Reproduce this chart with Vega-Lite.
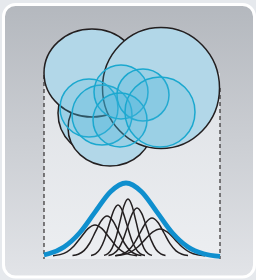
{
  "$schema": "https://vega.github.io/schema/vega-lite/v6.json",
  "width": 256,
  "height": 280,
  "autosize": {"type": "fit", "contains": "padding"},
  "padding": 0,
  "background": "#e6e9ed",
  "config": {"view": {"stroke": null}},
  "datasets": {
    "panel": [{"x": 3.5, "x2": 254.5, "y": 4.5, "y2": 277}],
    "inner": [{"x": 44, "x2": 220, "y": 73, "y2": 259}],
    "dash": [{"x": 44, "y": 75, "y2": 259}, {"x": 220, "y": 88, "y2": 259}],
    "ellipses": [
      {"id": "E3", "x": 100, "y": 113, "d": 84},
      {"id": "E4", "x": 110, "y": 128, "d": 84},
      {"id": "E1", "x": 92, "y": 73, "d": 96},
      {"id": "E2", "x": 161, "y": 88, "d": 117}
    ],
    "cyan": [
      {"id": "A", "x": 89, "y": 108, "d": 58},
      {"id": "F", "x": 102, "y": 115, "d": 60},
      {"id": "B", "x": 121, "y": 92, "d": 54},
      {"id": "C", "x": 143, "y": 95, "d": 52},
      {"id": "E", "x": 120, "y": 120, "d": 54},
      {"id": "D", "x": 160, "y": 112, "d": 70}
    ],
    "curves": [
      {"id": "c1", "x": 53, "y": 255.7}, {"id": "c1", "x": 60, "y": 254.6}, {"id": "c1", "x": 67, "y": 251.8}, {"id": "c1", "x": 74, "y": 245.9}, {"id": "c1", "x": 81, "y": 237.2}, {"id": "c1", "x": 88, "y": 228.6}, {"id": "c1", "x": 95, "y": 225}, {"id": "c1", "x": 102, "y": 228.6}, {"id": "c1", "x": 109, "y": 237.2}, {"id": "c1", "x": 116, "y": 245.9}, {"id": "c1", "x": 123, "y": 251.8}, {"id": "c1", "x": 130, "y": 254.6}, {"id": "c1", "x": 137, "y": 255.7},
      {"id": "c2", "x": 72.5, "y": 255.6}, {"id": "c2", "x": 78.3, "y": 254.2}, {"id": "c2", "x": 84, "y": 250.6}, {"id": "c2", "x": 89.8, "y": 243.0}, {"id": "c2", "x": 95.5, "y": 231.7}, {"id": "c2", "x": 101.3, "y": 220.7}, {"id": "c2", "x": 107, "y": 216}, {"id": "c2", "x": 112.8, "y": 220.7}, {"id": "c2", "x": 118.5, "y": 231.7}, {"id": "c2", "x": 124.3, "y": 243.0}, {"id": "c2", "x": 130, "y": 250.6}, {"id": "c2", "x": 135.8, "y": 254.2}, {"id": "c2", "x": 141.5, "y": 255.6},
      {"id": "c3", "x": 91, "y": 255.4}, {"id": "c3", "x": 95.5, "y": 253.8}, {"id": "c3", "x": 100, "y": 249.1}, {"id": "c3", "x": 104.5, "y": 239.4}, {"id": "c3", "x": 109, "y": 225.1}, {"id": "c3", "x": 113.5, "y": 211.0}, {"id": "c3", "x": 118, "y": 205}, {"id": "c3", "x": 122.5, "y": 211.0}, {"id": "c3", "x": 127, "y": 225.1}, {"id": "c3", "x": 131.5, "y": 239.4}, {"id": "c3", "x": 136, "y": 249.1}, {"id": "c3", "x": 140.5, "y": 253.8}, {"id": "c3", "x": 145, "y": 255.4},
      {"id": "c4", "x": 104, "y": 255.4}, {"id": "c4", "x": 108, "y": 253.5}, {"id": "c4", "x": 112, "y": 248.3}, {"id": "c4", "x": 116, "y": 237.5}, {"id": "c4", "x": 120, "y": 221.4}, {"id": "c4", "x": 124, "y": 205.7}, {"id": "c4", "x": 128, "y": 199}, {"id": "c4", "x": 132, "y": 205.7}, {"id": "c4", "x": 136, "y": 221.4}, {"id": "c4", "x": 140, "y": 237.5}, {"id": "c4", "x": 144, "y": 248.3}, {"id": "c4", "x": 148, "y": 253.5}, {"id": "c4", "x": 152, "y": 255.4},
      {"id": "c5", "x": 108.5, "y": 255.5}, {"id": "c5", "x": 113.3, "y": 253.9}, {"id": "c5", "x": 118, "y": 249.5}, {"id": "c5", "x": 122.8, "y": 240.4}, {"id": "c5", "x": 127.5, "y": 226.9}, {"id": "c5", "x": 132.3, "y": 213.6}, {"id": "c5", "x": 137, "y": 208}, {"id": "c5", "x": 141.8, "y": 213.6}, {"id": "c5", "x": 146.5, "y": 226.9}, {"id": "c5", "x": 151.3, "y": 240.4}, {"id": "c5", "x": 156, "y": 249.5}, {"id": "c5", "x": 160.8, "y": 253.9}, {"id": "c5", "x": 165.5, "y": 255.5},
      {"id": "c6", "x": 116, "y": 255.6}, {"id": "c6", "x": 122, "y": 254.3}, {"id": "c6", "x": 128, "y": 250.9}, {"id": "c6", "x": 134, "y": 243.7}, {"id": "c6", "x": 140, "y": 233.0}, {"id": "c6", "x": 146, "y": 222.5}, {"id": "c6", "x": 152, "y": 218}, {"id": "c6", "x": 158, "y": 222.5}, {"id": "c6", "x": 164, "y": 233.0}, {"id": "c6", "x": 170, "y": 243.7}, {"id": "c6", "x": 176, "y": 250.9}, {"id": "c6", "x": 182, "y": 254.3}, {"id": "c6", "x": 188, "y": 255.6},
      {"id": "c7", "x": 115, "y": 255.7}, {"id": "c7", "x": 122.5, "y": 254.8}, {"id": "c7", "x": 130, "y": 252.3}, {"id": "c7", "x": 137.5, "y": 247.2}, {"id": "c7", "x": 145, "y": 239.6}, {"id": "c7", "x": 152.5, "y": 232.2}, {"id": "c7", "x": 160, "y": 229}, {"id": "c7", "x": 167.5, "y": 232.2}, {"id": "c7", "x": 175, "y": 239.6}, {"id": "c7", "x": 182.5, "y": 247.2}, {"id": "c7", "x": 190, "y": 252.3}, {"id": "c7", "x": 197.5, "y": 254.8}, {"id": "c7", "x": 205, "y": 255.7}
    ],
    "blue": [
      {"x": 44, "y": 254.8}, {"x": 48.5, "y": 253.75}, {"x": 64, "y": 247.0}, {"x": 79.5, "y": 233.0}, {"x": 95, "y": 212.1}, {"x": 110.5, "y": 191.7}, {"x": 126, "y": 183}, {"x": 141.5, "y": 191.7}, {"x": 157, "y": 212.1}, {"x": 172.5, "y": 233.0}, {"x": 188, "y": 247.0}, {"x": 203.5, "y": 253.75}, {"x": 220, "y": 256.3}
    ]
  },
  "encoding": {
    "x": {"field": "x", "type": "quantitative", "scale": {"domain": [0, 256], "nice": false, "zero": false}, "axis": null},
    "y": {"field": "y", "type": "quantitative", "scale": {"domain": [0, 280], "nice": false, "zero": false, "reverse": true}, "axis": null}
  },
  "layer": [
    {
      "data": {"name": "panel"},
      "mark": {
        "type": "rect",
        "cornerRadius": 12,
        "stroke": "#ffffff",
        "strokeWidth": 3,
        "fill": {"gradient": "linear", "x1": 0, "y1": 0, "x2": 0, "y2": 1, "stops": [{"offset": 0, "color": "#b4b8be"}, {"offset": 1, "color": "#e2e4e8"}]}
      },
      "encoding": {"x2": {"field": "x2"}, "y2": {"field": "y2"}}
    },
    {
      "data": {"name": "inner"},
      "mark": {
        "type": "rect",
        "fill": {"gradient": "linear", "x1": 0, "y1": 0, "x2": 0, "y2": 1, "stops": [{"offset": 0, "color": "#dfe2e6"}, {"offset": 1, "color": "#eceef1"}]}
      },
      "encoding": {"x2": {"field": "x2"}, "y2": {"field": "y2"}}
    },
    {
      "data": {"name": "dash"},
      "mark": {"type": "rule", "color": "#231f20", "strokeWidth": 1.1, "strokeDash": [4, 3]},
      "encoding": {"y2": {"field": "y2"}}
    },
    {
      "data": {"name": "ellipses"},
      "mark": {"type": "point", "filled": true, "fill": "#b2d7e8", "stroke": "#231f20", "strokeWidth": 1.5, "opacity": 1, "fillOpacity": 1, "strokeOpacity": 1},
      "encoding": {
        "size": {"field": "d", "type": "quantitative", "scale": {"type": "pow", "exponent": 2, "domain": [0, 200], "range": [0, 40000]}, "legend": null},
        "shape": {
          "field": "id", "type": "nominal", "legend": null,
          "scale": {
            "domain": ["E1", "E2", "E3", "E4"],
            "range": [
              "M1,0C1,0.5065 0.5523,0.917 0,0.917C-0.5523,0.917 -1,0.5065 -1,0C-1,-0.5065 -0.5523,-0.917 0,-0.917C0.5523,-0.917 1,-0.5065 1,0Z",
              "M1,0C1,0.5711 0.5523,1.034 0,1.034C-0.5523,1.034 -1,0.5711 -1,0C-1,-0.5711 -0.5523,-1.034 0,-1.034C0.5523,-1.034 1,-0.5711 1,0Z",
              "circle",
              "M1,0C1,0.4998 0.5523,0.905 0,0.905C-0.5523,0.905 -1,0.4998 -1,0C-1,-0.4998 -0.5523,-0.905 0,-0.905C0.5523,-0.905 1,-0.4998 1,0Z"
            ]
          }
        }
      }
    },
    {
      "data": {"name": "cyan"},
      "mark": {"type": "point", "shape": "circle", "filled": true, "fill": "#3fb2de", "fillOpacity": 0.2, "stroke": "#1ba8cf", "strokeOpacity": 1, "strokeWidth": 1.5, "opacity": 1},
      "encoding": {
        "size": {"field": "d", "type": "quantitative", "scale": {"type": "pow", "exponent": 2, "domain": [0, 200], "range": [0, 40000]}, "legend": null}
      }
    },
    {
      "data": {"name": "curves"},
      "mark": {"type": "line", "interpolate": "monotone", "stroke": "#231f20", "strokeWidth": 1.5},
      "encoding": {"detail": {"field": "id", "type": "nominal"}}
    },
    {
      "data": {"name": "blue"},
      "mark": {"type": "line", "interpolate": "monotone", "stroke": "#0f8fce", "strokeWidth": 4.8},
      "encoding": {}
    }
  ]
}
